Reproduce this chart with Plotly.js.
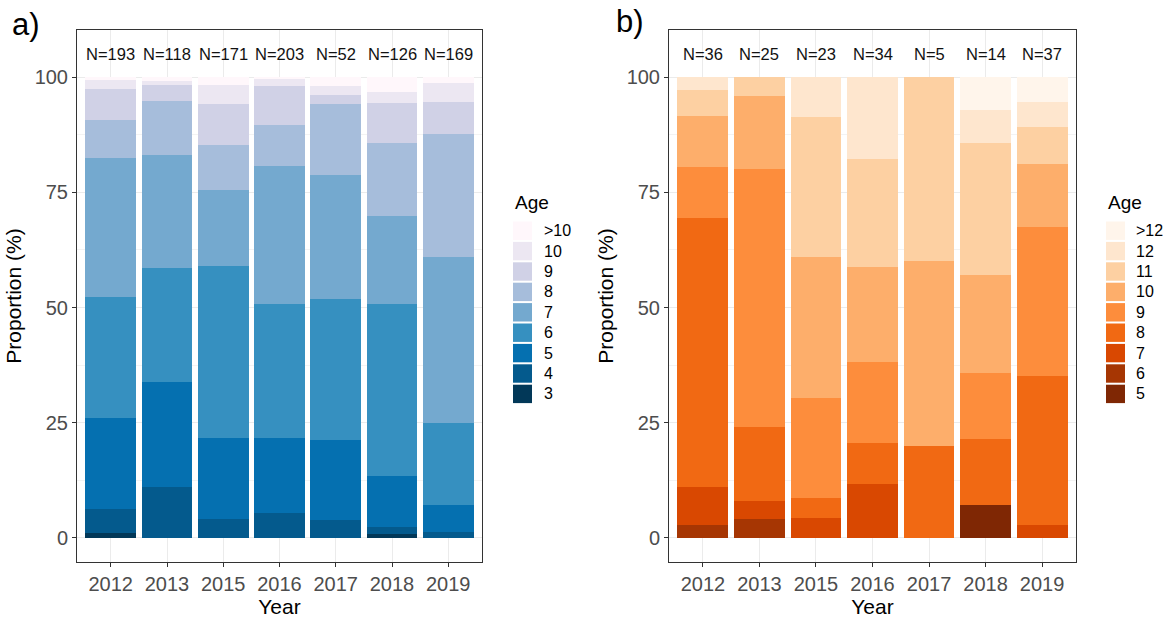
<!DOCTYPE html>
<html>
<head>
<meta charset="utf-8">
<script src="https://cdn.plot.ly/plotly-3.0.1.min.js"></script>
<style>
  html, body { margin: 0; padding: 0; background: #ffffff; }
  #chart { width: 1171px; height: 621px; }
</style>
</head>
<body>
<div id="chart"></div>
<script>
// Sampling years and sample sizes
const years = ['2012', '2013', '2015', '2016', '2017', '2018', '2019'];
const countsA = [193, 118, 171, 203, 52, 126, 169];
const countsB = [36, 25, 23, 34, 5, 14, 37];

// a) age composition (%), youngest class first
const agesA = ['3', '4', '5', '6', '7', '8', '9', '10', '>10'];
const a3   = [1.04, 0, 0, 0, 0, 0.79, 0];
const a4   = [5.18, 11.02, 4.09, 5.42, 3.85, 1.59, 1.18];
const a5   = [19.69, 22.88, 17.54, 16.26, 17.31, 11.11, 5.92];
const a6   = [26.42, 24.58, 37.43, 29.06, 30.77, 37.30, 17.75];
const a7   = [30.05, 24.58, 16.37, 30.05, 26.92, 19.05, 36.09];
const a8   = [8.29, 11.86, 9.94, 8.87, 15.38, 15.87, 26.63];
const a9   = [6.74, 3.39, 8.77, 8.37, 1.92, 8.73, 7.10];
const a10  = [2.07, 0.85, 4.09, 1.48, 1.92, 2.38, 4.14];
const aOld = [0.52, 0.85, 1.75, 0.49, 1.92, 3.17, 1.18];
const colorsA = ['#023858', '#045a8d', '#0570b0', '#3690c0', '#74a9cf',
                 '#a6bddb', '#d0d1e6', '#ece7f2', '#fff7fb'];

// b) age composition (%), youngest class first
const agesB = ['5', '6', '7', '8', '9', '10', '11', '12', '>12'];
const b5   = [0, 0, 0, 0, 0, 7.14, 0];
const b6   = [2.78, 4, 0, 0, 0, 0, 0];
const b7   = [8.33, 4, 4.35, 11.76, 0, 0, 2.70];
const b8   = [58.33, 16, 4.35, 8.82, 20, 14.29, 32.43];
const b9   = [11.11, 56, 21.74, 17.65, 0, 14.29, 32.43];
const b10  = [11.11, 16, 30.43, 20.59, 40, 21.43, 13.51];
const b11  = [5.56, 4, 30.43, 23.53, 40, 28.57, 8.11];
const b12  = [2.78, 0, 8.70, 17.65, 0, 7.14, 5.41];
const bOld = [0, 0, 0, 0, 0, 7.14, 5.41];
const colorsB = ['#7f2704', '#a63603', '#d94801', '#f16913', '#fd8d3c',
                 '#fdae6b', '#fdd0a2', '#fee6ce', '#fff5eb'];

const seriesA = [a3, a4, a5, a6, a7, a8, a9, a10, aOld];
const seriesB = [b5, b6, b7, b8, b9, b10, b11, b12, bOld];

// ---- page geometry (px) ----
const W = 1171, H = 621;
const M = { l: 77, r: 95, t: 30, b: 59 };
const plotW = W - M.l - M.r, plotH = H - M.t - M.b;
const px = x => (x - M.l) / plotW;          // page x -> paper x
const py = y => (H - M.b - y) / plotH;      // page y -> paper y

const FONT = 'Liberation Sans, Arial, Helvetica, sans-serif';
const GRID = '#ebebeb';
const INK = '#333333';

const traces = [];
function addPanel(series, ages, colors, xa, ya) {
  series.forEach((vals, i) => {
    traces.push({
      type: 'bar',
      name: ages[i],
      x: years,
      y: vals,
      xaxis: xa,
      yaxis: ya,
      marker: { color: colors[i], line: { width: 0 } },
      showlegend: false,
      hovertemplate: 'Age ' + ages[i] + '<br>%{x}: %{y:.1f}%<extra></extra>'
    });
  });
}
addPanel(seriesA, agesA, colorsA, 'x', 'y');
addPanel(seriesB, agesB, colorsB, 'x2', 'y2');

function xAxis(domain, anchor) {
  return {
    domain: domain, anchor: anchor, type: 'category',
    range: [-0.6, 6.6],
    showline: true, mirror: true, linecolor: INK, linewidth: 1,
    ticks: 'outside', ticklen: 4, tickcolor: INK, tickwidth: 1,
    showgrid: true, gridcolor: GRID, gridwidth: 1,
    tickfont: { family: FONT, size: 20, color: '#4d4d4d' },
    title: { text: 'Year', font: { family: FONT, size: 21, color: '#000000' }, standoff: 4 },
    fixedrange: true
  };
}
function yAxis(anchor) {
  return {
    domain: [0, 1], anchor: anchor,
    range: [-5.25, 110.25],
    tickvals: [0, 25, 50, 75, 100],
    showline: true, mirror: true, linecolor: INK, linewidth: 1,
    ticks: 'outside', ticklen: 4, tickcolor: INK, tickwidth: 1,
    showgrid: true, gridcolor: GRID, gridwidth: 1, zeroline: false,
    minor: { tickvals: [12.5, 37.5, 62.5, 87.5], showgrid: true, gridcolor: GRID, gridwidth: 0.6, ticks: '' },
    tickfont: { family: FONT, size: 20, color: '#4d4d4d' },
    title: { text: 'Proportion (%)', font: { family: FONT, size: 21, color: '#000000' }, standoff: 7 },
    fixedrange: true
  };
}

const annotations = [];
const shapes = [];

// sample sizes above the bars (x given as category index)
function addCounts(counts, xref, yref) {
  counts.forEach((n, i) => {
    annotations.push({
      x: i, y: 105, xref: xref, yref: yref,
      text: 'N=' + n, showarrow: false,
      font: { family: FONT, size: 16.5, color: '#111111' },
      xanchor: 'center', yanchor: 'middle'
    });
  });
}
addCounts(countsA, 'x', 'y');
addCounts(countsB, 'x2', 'y2');

// panel letters
annotations.push({ x: px(10), y: py(24), xref: 'paper', yref: 'paper', text: 'a)',
  showarrow: false, xanchor: 'left', yanchor: 'middle',
  font: { family: FONT, size: 31, color: '#000000' } });
annotations.push({ x: px(614), y: py(22), xref: 'paper', yref: 'paper', text: 'b)',
  showarrow: false, xanchor: 'left', yanchor: 'middle',
  font: { family: FONT, size: 31, color: '#000000' } });

// colour keys for each panel, oldest class on top
function addKey(ages, colors, left, labelLeft) {
  annotations.push({ x: px(left), y: py(202), xref: 'paper', yref: 'paper', text: 'Age',
    showarrow: false, xanchor: 'left', yanchor: 'middle',
    font: { family: FONT, size: 19, color: '#000000' } });
  const n = ages.length;
  for (let k = 0; k < n; k++) {
    const idx = n - 1 - k;
    const top = 221.5 + k * 20.4;
    shapes.push({ type: 'rect', xref: 'paper', yref: 'paper',
      x0: px(left), x1: px(left + 19), y0: py(top + 18.4), y1: py(top),
      fillcolor: colors[idx], line: { width: 0 }, layer: 'above' });
    annotations.push({ x: px(labelLeft), y: py(top + 9.2), xref: 'paper', yref: 'paper',
      text: ages[idx], showarrow: false, xanchor: 'left', yanchor: 'middle',
      font: { family: FONT, size: 16, color: '#000000' } });
  }
}
addKey(agesA, colorsA, 513, 542);
addKey(agesB, colorsB, 1106, 1134);

const layout = {
  width: W, height: H,
  margin: M,
  paper_bgcolor: '#ffffff',
  plot_bgcolor: '#ffffff',
  barmode: 'stack',
  bargap: 0.1,
  showlegend: false,
  xaxis: xAxis([0, px(482)], 'y'),
  yaxis: yAxis('x'),
  xaxis2: xAxis([px(669), 1], 'y2'),
  yaxis2: yAxis('x2'),
  annotations: annotations,
  shapes: shapes,
  font: { family: FONT }
};

Plotly.newPlot('chart', traces, layout, { displayModeBar: false, staticPlot: true });
</script>
</body>
</html>
